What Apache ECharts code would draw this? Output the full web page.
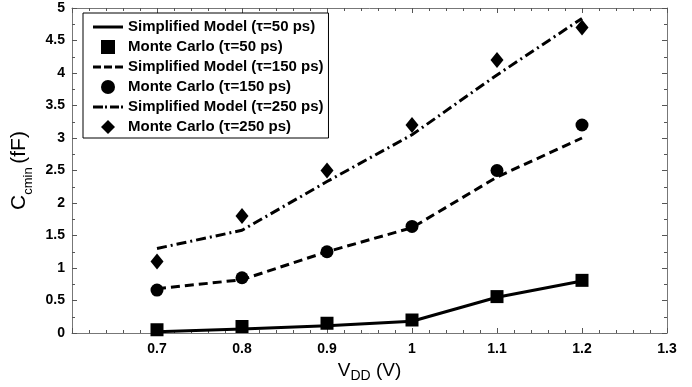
<!DOCTYPE html>
<html>
<head>
<meta charset="utf-8">
<script src="https://cdn.jsdelivr.net/npm/echarts@6/dist/echarts.min.js"></script>
<style>
  html, body { margin: 0; padding: 0; background: #fff; }
  #chart { width: 692px; height: 387px; }
</style>
</head>
<body>
<div id="chart"></div>
<script>
// VDD values (V)
const vdd = [0.7, 0.8, 0.9, 1.0, 1.1, 1.2]
// simplified model curves
const model50 = [0.02, 0.06, 0.11, 0.18, 0.55, 0.80]
const model150 = [0.68, 0.82, 1.25, 1.62, 2.40, 3.00]
const model250 = [1.30, 1.58, 2.33, 3.05, 3.97, 4.84]
// monte carlo points
const mc50 = [0.05, 0.10, 0.15, 0.20, 0.56, 0.81]
const mc150 = [0.66, 0.85, 1.25, 1.64, 2.50, 3.20]
const mc250 = [1.10, 1.80, 2.50, 3.20, 4.20, 4.70]

const pairs = (ys) => vdd.map((x, i) => [x, ys[i]])

const names = [
  'Simplified Model (\u03c4=50 ps)',
  'Monte Carlo (\u03c4=50 ps)',
  'Simplified Model (\u03c4=150 ps)',
  'Monte Carlo (\u03c4=150 ps)',
  'Simplified Model (\u03c4=250 ps)',
  'Monte Carlo (\u03c4=250 ps)'
]

// legend glyphs: line patterns drawn as filled bars, markers as shapes
const legendIcons = [
  'path://M0,0h30v3h-30z',
  'path://M0,0h13v13h-13z',
  'path://M0,0h8v3h-8z M11,0h8v3h-8z M22,0h8v3h-8z',
  'circle',
  'path://M0,0h10v3h-10z M12,0h2v3h-2z M17,0h9v3h-9z M28,0h2v3h-2z',
  'path://M7,0L14,7L7,14L0,7z'
]

const font = 'Liberation Sans, Arial, sans-serif'

const chart = echarts.init(document.getElementById('chart'))

const lineSeries = (name, ys, type) => ({
  name: name,
  type: 'line',
  data: pairs(ys),
  symbol: 'none',
  z: 2,
  lineStyle: { color: '#000', width: 3, type: type },
  itemStyle: { color: '#000' }
})

const mcSeries = (name, ys, symbol, size) => ({
  name: name,
  type: 'scatter',
  data: pairs(ys),
  symbol: symbol,
  symbolSize: size,
  z: 3,
  itemStyle: { color: '#000', opacity: 1 }
})

const axisLine = { show: true, onZero: false, lineStyle: { color: '#777', width: 1 } }
const tick = { inside: true, length: 5, lineStyle: { color: '#555' } }

const option = {
  backgroundColor: '#fff',
  animation: false,
  grid: { left: 72, right: 25, top: 8, bottom: 54, containLabel: false, outerBoundsMode: 'none' },
  legend: {
    orient: 'vertical',
    left: 83,
    top: 13,
    padding: [6, 5, 3, 10],
    itemGap: 4,
    itemWidth: 30,
    itemHeight: 14,
    borderColor: '#000',
    borderWidth: 1,
    backgroundColor: '#fff',
    textStyle: { fontFamily: font, fontWeight: 'bold', fontSize: 15, lineHeight: 16, color: '#000' },
    data: names.map((n, i) => ({ name: n, icon: legendIcons[i] }))
  },
  xAxis: [
    {
      type: 'value',
      min: 0.6,
      max: 1.3,
      interval: 0.1,
      axisLine: axisLine,
      axisTick: tick,
      minorTick: { show: true, splitNumber: 5, length: 3, lineStyle: { color: '#555' } },
      splitLine: { show: false },
      axisLabel: {
        margin: 9,
        color: '#000',
        fontFamily: font,
        fontWeight: 'bold',
        fontSize: 14,
        formatter: (v) => (Math.abs(v - 0.6) < 1e-6 ? '' : String(+v.toFixed(1)))
      },
      name: '{m|V}{s|DD}{m| (V)}',
      nameLocation: 'middle',
      nameGap: 24,
      nameTextStyle: {
        rich: {
          m: { fontFamily: font, fontSize: 19, color: '#000', lineHeight: 26 },
          s: { fontFamily: font, fontSize: 14, color: '#000', lineHeight: 10, verticalAlign: 'bottom' }
        }
      }
    },
    {
      type: 'value',
      position: 'top',
      min: 0.6,
      max: 1.3,
      interval: 0.1,
      axisLine: axisLine,
      axisTick: tick,
      minorTick: { show: true, splitNumber: 5, length: 3, lineStyle: { color: '#555' } },
      splitLine: { show: false },
      axisLabel: { show: false }
    }
  ],
  yAxis: [
    {
      type: 'value',
      min: 0,
      max: 5,
      interval: 0.5,
      axisLine: axisLine,
      axisTick: tick,
      minorTick: { show: true, splitNumber: 2, length: 3, lineStyle: { color: '#555' } },
      splitLine: { show: false },
      axisLabel: { margin: 7, color: '#000', fontFamily: font, fontWeight: 'bold', fontSize: 14 },
      name: '{m|C}{s|cmin }{m|(fF)}',
      nameLocation: 'middle',
      nameGap: 37,
      nameRotate: 90,
      nameTextStyle: {
        rich: {
          m: { fontFamily: font, fontSize: 21, color: '#000', lineHeight: 30 },
          s: { fontFamily: font, fontSize: 13, color: '#000', lineHeight: 8, verticalAlign: 'bottom' }
        }
      }
    },
    {
      type: 'value',
      position: 'right',
      min: 0,
      max: 5,
      interval: 0.5,
      axisLine: axisLine,
      axisTick: tick,
      minorTick: { show: true, splitNumber: 2, length: 3, lineStyle: { color: '#555' } },
      splitLine: { show: false },
      axisLabel: { show: false }
    }
  ],
  series: [
    lineSeries(names[0], model50, 'solid'),
    mcSeries(names[1], mc50, 'rect', 13),
    lineSeries(names[2], model150, [9, 5]),
    mcSeries(names[3], mc150, 'circle', 13),
    lineSeries(names[4], model250, [10, 4, 2, 4]),
    mcSeries(names[5], mc250, 'diamond', [13, 16])
  ]
}

chart.setOption(option)
</script>
</body>
</html>
